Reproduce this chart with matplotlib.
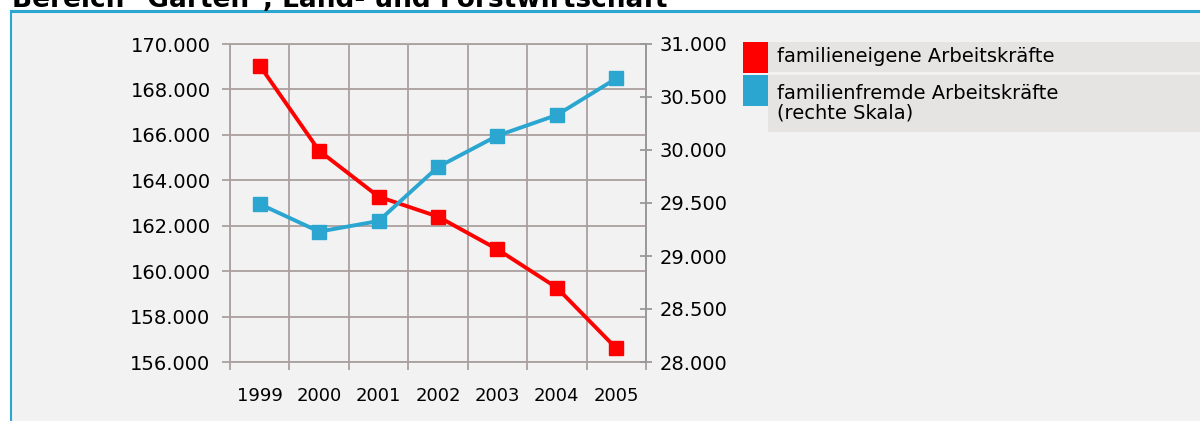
import numpy as np
import matplotlib
matplotlib.use("Agg")
import matplotlib.pyplot as plt
from matplotlib.patches import Rectangle
from matplotlib.ticker import FuncFormatter, MultipleLocator, FixedLocator

# Daten
jahre = ["1999", "2000", "2001", "2002", "2003", "2004", "2005"]
familieneigene = [169050, 165300, 163280, 162400, 160960, 159270, 156600]
familienfremde = [29490, 29230, 29330, 29840, 30135, 30330, 30675]
labels = ["familieneigene Arbeitskräfte",
          "familienfremde Arbeitskräfte\n(rechte Skala)"]
titel = 'Bereich "Gärten", Land- und Forstwirtschaft'

rot = "#ff0000"
blau = "#2ba6d1"
gitter = "#aaa0a0"
hintergrund = "#f2f2f2"

W, H = 1200, 421
plt.rcParams['font.family'] = 'DejaVu Sans'

fig = plt.figure(figsize=(W / 100, H / 100), dpi=100)
fig.patch.set_facecolor("white")

def fx(x):
    return x / W

def fy(y):
    return 1 - y / H

# Panel mit blauem Rand
fig.patches.append(Rectangle((fx(11), 0), 1 - fx(11), fy(11), transform=fig.transFigure,
                             facecolor=hintergrund, edgecolor="none", zorder=-10))
fig.lines.append(plt.Line2D([fx(11), 1], [fy(11), fy(11)], transform=fig.transFigure,
                            color=blau, lw=2.2, zorder=-5))
fig.lines.append(plt.Line2D([fx(11), fx(11)], [fy(11), 0], transform=fig.transFigure,
                            color=blau, lw=1.5, zorder=-5))

# Titel (oben abgeschnitten wie im Original)
fig.text(fx(12), fy(7), titel, fontsize=19, fontweight="bold", va="baseline", ha="left")

ax = fig.add_axes([fx(230), fy(362), fx(646) - fx(230), fy(44) - fy(362)])
ax.set_facecolor(hintergrund)
x = np.arange(len(jahre))

ax.plot(x, familieneigene, color=rot, lw=2.8, marker="s", ms=9.5, zorder=3, clip_on=False)
ax.set_xlim(-0.5, len(jahre) - 0.5)
ax.set_ylim(156000, 170000)
ax.yaxis.set_major_locator(MultipleLocator(2000))
fmt = FuncFormatter(lambda v, p: f"{v:,.0f}".replace(",", "."))
ax.yaxis.set_major_formatter(fmt)
ax.set_xticks(x)
ax.set_xticklabels(jahre)
ax.xaxis.set_minor_locator(FixedLocator(np.arange(-0.5, len(jahre), 1.0)))
ax.tick_params(axis="x", which="major", length=0, pad=18, labelsize=13)
ax.tick_params(axis="x", which="minor", length=6, color=gitter, width=1.3)
ax.tick_params(axis="y", length=6, color=gitter, width=1.3, pad=8, labelsize=14)
ax.grid(True, axis="y", which="major", color=gitter, lw=1.3)
ax.grid(True, axis="x", which="minor", color=gitter, lw=1.3)
ax.set_axisbelow(True)
for s in ax.spines.values():
    s.set_color(gitter)
    s.set_linewidth(1.3)

ax2 = ax.twinx()
ax2.plot(x, familienfremde, color=blau, lw=2.8, marker="s", ms=9.5, zorder=3, clip_on=False)
ax2.set_ylim(28000, 31000)
ax2.yaxis.set_major_locator(MultipleLocator(500))
ax2.yaxis.set_major_formatter(fmt)
ax2.tick_params(axis="y", direction="inout", length=8, color="#999999", width=1.3,
                pad=6, labelsize=14)
for s in ax2.spines.values():
    s.set_visible(False)
ax2.spines["right"].set_visible(True)
ax2.spines["right"].set_color("#999999")
ax2.spines["right"].set_linewidth(1.3)

# Legende
zeilen = [(42, 72, 47, rot, labels[0]), (75, 132, 84, blau, labels[1])]
for y0, y1, ytxt, farbe, txt in zeilen:
    fig.patches.append(Rectangle((fx(768), fy(y1)), 1 - fx(768), fy(y0) - fy(y1),
                                 transform=fig.transFigure, facecolor="#e6e3e3",
                                 edgecolor="none"))
    fig.patches.append(Rectangle((fx(743), fy(y0 + 31)), fx(768) - fx(743), fy(y0) - fy(y0 + 31),
                                 transform=fig.transFigure, facecolor=farbe,
                                 edgecolor="none"))
    fig.text(fx(777), fy(ytxt), txt, fontsize=14, va="top", ha="left",
             linespacing=1.05)

fig.savefig("out.png", dpi=100, facecolor=fig.get_facecolor())
